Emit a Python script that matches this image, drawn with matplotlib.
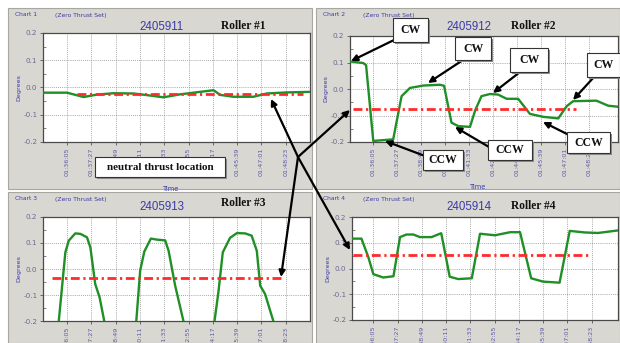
import numpy as np
import matplotlib.pyplot as plt
from matplotlib.patches import Rectangle, FancyArrowPatch

# ==================================================
# DATA
# ==================================================
W, H = 620, 343

time_labels = ["01:36:05", "01:37:27", "01:38:49", "01:40:11", "01:41:33",
               "01:42:55", "01:44:17", "01:45:39", "01:47:01", "01:48:23"]
tick_pos = np.arange(len(time_labels))

serials = ["2405911", "2405912", "2405913", "2405914"]
rollers = ["Roller #1", "Roller #2", "Roller #3", "Roller #4"]

r1_x = [-0.96, 0.0, 0.68, 1.23, 1.92, 2.74, 3.29, 3.97, 4.66, 5.48, 6.03, 6.3, 6.85, 7.67, 8.22, 9.04, 10.0]
r1_y = [-0.019, -0.019, -0.035, -0.026, -0.021, -0.022, -0.028, -0.036, -0.025, -0.016, -0.01, -0.027, -0.034, -0.034, -0.022, -0.018, -0.016]

r2_x = [-0.97, -0.42, -0.3, 0.0, 0.83, 1.18, 1.53, 2.08, 2.78, 2.95, 3.26, 3.54, 4.03, 4.25,
        4.51, 4.86, 5.2, 5.56, 6.04, 6.53, 7.08, 7.71, 8.06, 8.33, 9.3, 9.79, 10.2]
r2_y = [0.104, 0.098, 0.09, -0.196, -0.19, -0.027, 0.004, 0.013, 0.016, 0.012, -0.127, -0.14, -0.143, -0.08,
        -0.027, -0.019, -0.021, -0.037, -0.037, -0.094, -0.105, -0.111, -0.065, -0.046, -0.044, -0.063, -0.067]

r3_x = [-0.5, -0.34, -0.07, 0.07, 0.34, 0.55, 0.82, 0.96, 1.16, 1.34, 1.53, 1.7,
        2.7, 2.85, 3.01, 3.18, 3.45, 3.7, 4.04, 4.18, 4.45, 4.79, 4.95,
        5.9, 6.07, 6.23, 6.41, 6.71, 6.99, 7.33, 7.6, 7.81, 7.95, 8.15, 8.49, 8.65]
r3_y = [-0.35, -0.2, 0.064, 0.109, 0.137, 0.135, 0.122, 0.083, -0.058, -0.109, -0.2, -0.35,
        -0.35, -0.2, -0.006, 0.067, 0.117, 0.113, 0.11, 0.07, -0.064, -0.2, -0.35,
        -0.35, -0.2, -0.089, 0.064, 0.12, 0.138, 0.137, 0.128, 0.07, -0.064, -0.096, -0.2, -0.35]

r4_x = [-0.9, -0.49, -0.21, 0.0, 0.41, 0.83, 1.1, 1.37, 1.65, 1.92, 2.4, 2.8, 3.15, 3.5, 4.06,
        4.4, 5.02, 5.64, 6.05, 6.51, 7.0, 7.68, 8.1, 8.72, 9.27, 10.1]
r4_y = [0.116, 0.116, 0.045, -0.022, -0.035, -0.03, 0.122, 0.132, 0.132, 0.122, 0.122, 0.137, -0.032, -0.041, -0.038,
        0.135, 0.129, 0.141, 0.141, -0.038, -0.051, -0.055, 0.146, 0.14, 0.138, 0.148]

# neutral thrust line per roller: level, start, end
neutral_level = [-0.024, -0.075, -0.035, 0.051]
neutral_start = [0.4, -0.83, -0.62, -0.83]
neutral_end = [9.7, 8.47, 8.9, 8.9]

series_x = [r1_x, r2_x, r3_x, r4_x]
series_y = [r1_y, r2_y, r3_y, r4_y]

# ==================================================
# LAYOUT (pixels)
# ==================================================
def fx(x):
    return x / W

def fy(y):
    return 1 - y / H

panel_box = [(8, 8, 312, 189), (316, 8, 620, 189), (8, 192, 312, 343), (316, 192, 620, 343)]
plot_box = [(43, 33, 310, 142), (350, 36, 618, 142), (43, 217, 310, 321), (352, 217, 618, 320)]
xlims = [(-0.99, 10.0), (-0.97, 10.2), (-0.99, 10.0), (-0.88, 10.09)]

gray = "#d9d7d2"
blue = "#3a3aa6"
tick_blue = "#5c5ca6"
green = "#1f8f26"
red = "#ff2a2a"

fig = plt.figure(figsize=(W / 100, H / 100), dpi=100)
fig.patch.set_facecolor("white")

for i, (x0, y0, x1, y1) in enumerate(panel_box):
    fig.add_artist(Rectangle((fx(x0), fy(y1)), fx(x1 - x0), (y1 - y0) / H,
                             transform=fig.transFigure, facecolor=gray,
                             edgecolor="#a8a6a0", lw=0.8, zorder=0))
    fig.text(fx(x0 + 7), fy(y0 + 7), "Chart %d" % (i + 1), fontsize=4.3,
             color=blue, ha="left", va="center")
    fig.text(fx(x0 + 47), fy(y0 + 7), "(Zero Thrust Set)", fontsize=4.3,
             color=blue, ha="left", va="center")

title_pos = [(162, 27, 243, 26), (469, 27, 533, 26), (162, 207, 243, 203), (469, 207, 533, 206)]

axes = []
for i in range(4):
    x0, y0, x1, y1 = plot_box[i]
    ax = fig.add_axes([fx(x0), fy(y1), fx(x1 - x0), (y1 - y0) / H])
    ax.set_facecolor("white")
    ax.plot(series_x[i], series_y[i], color=green, lw=1.7, zorder=3)
    ax.plot([neutral_start[i], neutral_end[i]], [neutral_level[i]] * 2, color=red,
            lw=2.0, linestyle=(0, (3.2, 1.3, 0.8, 1.3)), zorder=4)
    ax.set_xlim(*xlims[i])
    ax.set_ylim(-0.2, 0.2)
    ax.set_xticks(tick_pos)
    ax.set_xticklabels(time_labels, rotation=90, fontsize=4.6, color=tick_blue)
    ax.set_yticks([-0.2, -0.1, 0.0, 0.1, 0.2])
    ax.set_yticklabels(["-0.2", "-0.1", "0.0", "0.1", "0.2"], fontsize=5.2, color="#6a6a90")
    ax.set_yticks([-0.15, -0.05, 0.05, 0.15], minor=True)
    ax.tick_params(axis="y", which="major", direction="out", length=2.5, width=0.6, pad=1.5, color="#555555")
    ax.tick_params(axis="y", which="minor", direction="in", length=2, width=0.5, color="#555555")
    ax.tick_params(axis="x", direction="out", length=2.5, width=0.6, pad=1.5, color="#555555")
    ax.grid(True, which="major", linestyle=(0, (1, 1.5)), color="#8a8a8a", lw=0.6)
    for s in ax.spines.values():
        s.set_color("#4a4a4a")
        s.set_linewidth(0.9)
    ax.set_ylabel("Degrees", fontsize=4.6, color=blue, labelpad=1.5)
    if i < 2:
        # bottom row's time label falls outside the picture
        ax.set_xlabel("Time", fontsize=4.8, color=blue)
        ax.xaxis.set_label_coords(0.48, -0.4)
    axes.append(ax)

    tx, ty, rx, ry = title_pos[i]
    fig.text(fx(tx), fy(ty), serials[i], fontsize=8.3, color=blue, ha="center", va="center",
             family="Liberation Sans")
    fig.text(fx(rx), fy(ry), rollers[i], fontsize=8.3, color="#111111", ha="center", va="center",
             family="Liberation Serif", weight="bold")

# ==================================================
# CALLOUT BOXES + ARROWS
# ==================================================
def callout(x0, y0, x1, y1, label, size=8.5):
    fig.add_artist(Rectangle((fx(x0 + 2), fy(y1 + 2)), fx(x1 - x0), (y1 - y0) / H,
                             transform=fig.transFigure, facecolor="#8c8c8c",
                             edgecolor="none", zorder=20))
    fig.add_artist(Rectangle((fx(x0), fy(y1)), fx(x1 - x0), (y1 - y0) / H,
                             transform=fig.transFigure, facecolor="white",
                             edgecolor="#333333", lw=0.8, zorder=21))
    fig.text(fx((x0 + x1) / 2), fy((y0 + y1) / 2), label, fontsize=size, ha="center",
             va="center", family="Liberation Serif", weight="bold", color="#111111", zorder=22)

def arrow(x0, y0, x1, y1):
    fig.add_artist(FancyArrowPatch((fx(x0), fy(y0)), (fx(x1), fy(y1)),
                                   transform=fig.transFigure, arrowstyle="-|>",
                                   mutation_scale=9, lw=1.6, color="black",
                                   shrinkA=0, shrinkB=0, zorder=19))

cw_boxes = [(393, 18, 428, 42), (455, 37, 491, 60), (510, 48, 548, 72), (587, 53, 620, 77)]
cw_arrows = [(394, 40, 351, 61), (463, 60, 428, 83), (520, 72, 493, 93), (594, 77, 573, 100)]
ccw_boxes = [(423, 150, 463, 170), (488, 140, 532, 160), (567, 132, 610, 153)]
ccw_arrows = [(425, 156, 385, 141), (489, 147, 455, 127), (569, 135, 543, 122)]

for (a, b, c, d) in cw_arrows + ccw_arrows:
    arrow(a, b, c, d)
for bx in cw_boxes:
    callout(*bx, "CW")
for bx in ccw_boxes:
    callout(*bx, "CCW")

hub = (298, 157)
for tx, ty in [(271, 99), (350, 110), (281, 277), (350, 250)]:
    arrow(hub[0], hub[1], tx, ty)

callout(95, 157, 225, 177, "neutral thrust location", size=8)

fig.savefig("out.png", dpi=100)
